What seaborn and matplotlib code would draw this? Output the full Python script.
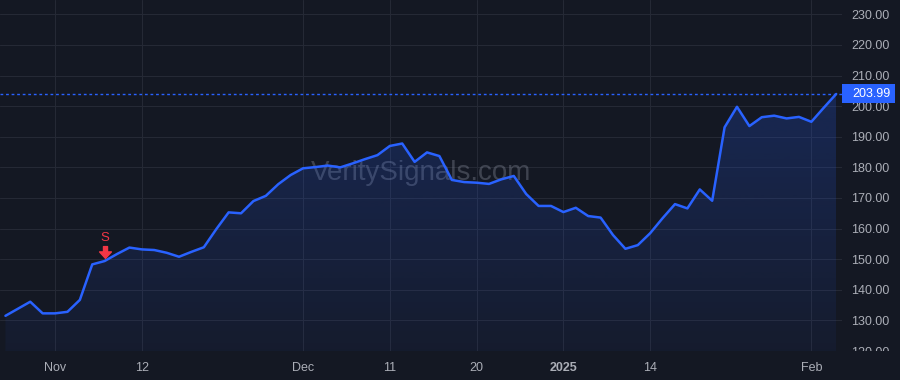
import numpy as np
import pandas as pd
import matplotlib
matplotlib.use("Agg")
import matplotlib.pyplot as plt
import seaborn as sns
from matplotlib.transforms import blended_transform_factory, offset_copy, Bbox, TransformedBbox
from matplotlib.path import Path
from matplotlib.patches import Rectangle

# ---------------- data ----------------
dates = [
    '2024-10-28', '2024-10-29', '2024-10-30', '2024-10-31', '2024-11-01', '2024-11-04',
    '2024-11-05', '2024-11-06', '2024-11-07', '2024-11-08', '2024-11-11', '2024-11-12',
    '2024-11-13', '2024-11-14', '2024-11-15', '2024-11-18', '2024-11-19', '2024-11-20',
    '2024-11-21', '2024-11-22', '2024-11-25', '2024-11-26', '2024-11-27', '2024-11-29',
    '2024-12-02', '2024-12-03', '2024-12-04', '2024-12-05', '2024-12-06', '2024-12-09',
    '2024-12-10', '2024-12-11', '2024-12-12', '2024-12-13', '2024-12-16', '2024-12-17',
    '2024-12-18', '2024-12-19', '2024-12-20', '2024-12-23', '2024-12-24', '2024-12-26',
    '2024-12-27', '2024-12-30', '2024-12-31', '2025-01-02', '2025-01-03', '2025-01-06',
    '2025-01-07', '2025-01-08', '2025-01-10', '2025-01-13', '2025-01-14', '2025-01-15',
    '2025-01-16', '2025-01-17', '2025-01-21', '2025-01-22', '2025-01-23', '2025-01-24',
    '2025-01-27', '2025-01-28', '2025-01-29', '2025-01-30', '2025-01-31', '2025-02-03',
    '2025-02-04', '2025-02-05',
]
closes = [
    131.5, 133.8, 136.1, 132.3, 132.3, 132.8, 136.7, 148.3, 149.4, 151.7,
    153.8, 153.2, 153.0, 152.1, 150.8, 152.4, 153.9, 159.8, 165.3, 165.0,
    169.0, 170.7, 174.5, 177.5, 179.7, 180.1, 180.6, 180.0, 181.3, 182.7,
    184.0, 187.0, 187.8, 181.8, 184.9, 183.7, 175.9, 175.2, 175.0, 174.6,
    176.1, 177.2, 171.3, 167.4, 167.4, 165.4, 166.8, 164.1, 163.6, 157.9,
    153.4, 154.6, 158.5, 163.4, 168.0, 166.6, 172.8, 169.1, 193.1, 199.8,
    193.5, 196.4, 196.9, 196.0, 196.5, 194.9, 199.5, 203.99,
]
tick_dates = ['2024-11-01', '2024-11-12', '2024-12-02', '2024-12-11',
              '2024-12-20', '2025-01-02', '2025-01-14', '2025-02-03']
tick_labels = ['Nov', '12', 'Dec', '11', '20', '2025', '14', 'Feb']
y_ticks = [120, 130, 140, 150, 160, 170, 180, 190, 200, 210, 220, 230]
signal_date = '2024-11-07'
signal_label = 'S'
watermark = 'VeritySignals.com'

# ---------------- style ----------------
BG = '#141823'
BLUE = '#2962FF'
RED = '#F23645'
GRID = '#252935'
TXT = '#ABAEB7'

sns.set_theme(style='dark')
plt.rcParams['font.family'] = ['Liberation Sans', 'DejaVu Sans']

df = pd.DataFrame({'date': dates, 'close': closes})
df['idx'] = np.arange(len(df))

fig = plt.figure(figsize=(9, 3.8), dpi=100, facecolor=BG)
ax = fig.add_axes([0, 29 / 380, 842 / 900, 351 / 380])
ax.set_facecolor(BG)

sns.lineplot(data=df, x='idx', y='close', ax=ax, color=BLUE, lw=1.8, zorder=4)

# gradient area under the line
y_min = y_ticks[0]
y_max = max(closes)
poly = ax.fill_between(df['idx'], df['close'], y_min, color='none', lw=0)
grad = np.zeros((256, 1, 4))
grad[..., 0], grad[..., 1], grad[..., 2] = matplotlib.colors.to_rgb(BLUE)
grad[:, 0, 3] = np.linspace(0.05, 0.22, 256)
im = ax.imshow(grad, extent=[df['idx'].iloc[0], df['idx'].iloc[-1], y_min, y_max],
               aspect='auto', origin='lower', zorder=2, interpolation='bilinear')
im.set_clip_path(poly.get_paths()[0], transform=ax.transData)

# limits
ax.set_xlim(-0.44, len(df) - 1 + 0.47)
ax.set_ylim(y_min, 234.7)

# grid / ticks
ax.grid(True, color=GRID, lw=0.8, zorder=0)
for s in ax.spines.values():
    s.set_visible(False)
tick_pos = [dates.index(d) for d in tick_dates]
ax.set_xticks(tick_pos, tick_labels)
ax.get_xticklabels()[tick_labels.index('2025')].set_fontweight('bold')
ax.yaxis.tick_right()
ax.set_yticks(y_ticks, [f'{v:.2f}' for v in y_ticks])
ax.tick_params(axis='both', length=0, colors=TXT, labelsize=9)
ax.tick_params(axis='y', pad=6.5)
ax.tick_params(axis='x', pad=7.7)
ax.set_xlabel('')
ax.set_ylabel('')

clipbox = TransformedBbox(Bbox([[0, 29 / 380], [1, 1]]), fig.transFigure)
for t in ax.yaxis.get_major_ticks():
    t.label2.set_clip_box(clipbox)
    t.label2.set_clip_on(True)

# watermark
ax.text(0.5, 0.507, watermark, transform=ax.transAxes, ha='center', va='center',
        fontsize=20, color=(0.52, 0.54, 0.60, 0.38), zorder=1)

# last price line + label
last = closes[-1]
ax.axhline(last, color=BLUE, lw=1.0, ls=(0, (2, 2)), zorder=3)
btr = blended_transform_factory(ax.transAxes, ax.transData)
ax.add_patch(Rectangle((1.0, last - 3.1), 53 / 842, 6.2, transform=btr,
                       facecolor=BLUE, edgecolor='none', clip_on=False, zorder=6))
ax.text(1.0 + 10 / 842, last, f'{last:.2f}', transform=btr, ha='left', va='center',
        color='white', fontsize=9, zorder=7, clip_on=False)

# signal marker
si = dates.index(signal_date)
sv = closes[si]
arrow = Path([(-0.17, 0.5), (0.17, 0.5), (0.17, 0.05), (0.5, 0.05), (0.0, -0.5),
              (-0.5, 0.05), (-0.17, 0.05), (-0.17, 0.5)], closed=True)
ax.plot([si], [sv], marker=arrow, ms=8.5, color=RED, mec=RED, ls='none', zorder=6,
        transform=offset_copy(ax.transData, fig=fig, x=0, y=9.5, units='dots'))
ax.text(si, sv, signal_label, ha='center', va='center', color=RED, fontsize=9.5, zorder=6,
        transform=offset_copy(ax.transData, fig=fig, x=0, y=23, units='dots'))

fig.savefig('out.png', dpi=100, facecolor=BG)
